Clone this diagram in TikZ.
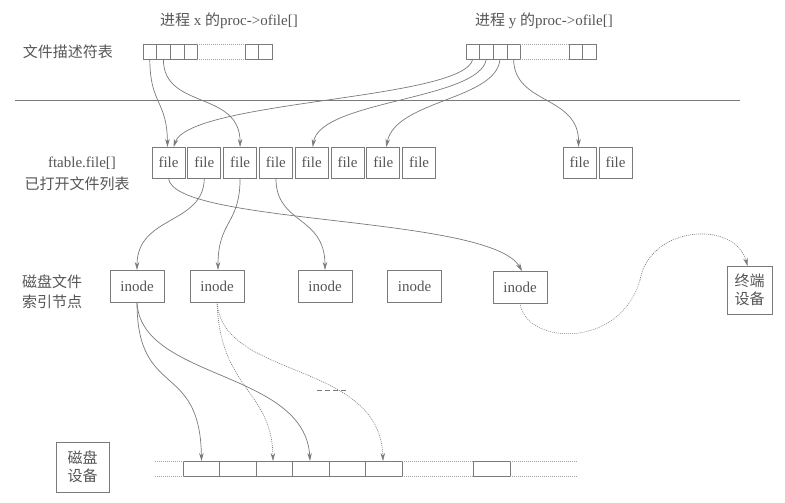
\documentclass[tikz,border=0pt]{standalone}
\usepackage{fontspec}
\setmainfont{Liberation Serif}
\newfontfamily\cjk{Noto Sans CJK SC}
\usetikzlibrary{arrows.meta}
\definecolor{ln}{HTML}{7A7A7A}
\definecolor{tx}{HTML}{555555}
\tikzset{
  every node/.style={text=tx},
  cell/.style={draw=ln, line width=0.6pt, minimum width=13.6pt, minimum height=15pt, inner sep=0pt, outer sep=0pt},
  filebox/.style={draw=ln, line width=0.7pt, minimum width=33pt, minimum height=31pt, inner sep=0pt, outer sep=0pt},
  inodebox/.style={draw=ln, line width=0.7pt, minimum width=54pt, minimum height=32pt, inner sep=0pt, outer sep=0pt},
  diskcell/.style={draw=ln, line width=0.6pt, minimum width=36.5pt, minimum height=15pt, inner sep=0pt, outer sep=0pt},
  devbox/.style={draw=ln, line width=0.7pt, align=center, inner sep=0pt, outer sep=0pt},
  conn/.style={draw=ln, line width=0.7pt, -{Stealth[length=8pt,width=4.5pt]}},
  dotconn/.style={draw=ln, line width=0.6pt, dash pattern=on 1pt off 1pt, -{Stealth[length=8pt,width=4.5pt]}},
  dotline/.style={draw=ln!70, line width=0.5pt, dash pattern=on 1pt off 1pt},
  lbl/.style={inner sep=0pt, align=center}
}
\begin{document}
\begin{tikzpicture}[x=1pt,y=-1pt,font=\fontsize{15}{19}\selectfont]
\useasboundingbox (0,0) rectangle (785,503);

% titles
\node[lbl] (tx) at (229,21) {{\cjk 进程} x {\cjk 的}proc->ofile[]};
\node[lbl] (ty) at (544,21) {{\cjk 进程} y {\cjk 的}proc->ofile[]};
\node[lbl] (fdt) at (68,52) {\cjk 文件描述符表};
\node[lbl] (ft1) at (82,163) {ftable.file[]};
\node[lbl] (ft2) at (77,184) {\cjk 已打开文件列表};
\node[lbl] (in1) at (52,282) {\cjk 磁盘文件};
\node[lbl] (in2) at (52,302) {\cjk 索引节点};

% separator line
\coordinate (sepL) at (15,100);
\coordinate (sepR) at (740,100);
\draw[ln, line width=0.8pt] (sepL) -- (sepR);

% process x array
\foreach \i/\x in {1/149.8,2/163.4,3/177,4/190.6,5/251.8,6/265.4}
  \node[cell] (xc\i) at (\x,51.5) {};
\draw[dotline] (xc4.north east) -- (xc5.north west);
\draw[dotline] (xc4.south east) -- (xc5.south west);

% process y array
\foreach \i/\x in {1/472.8,2/486.4,3/500,4/513.6,5/575.8,6/589.4}
  \node[cell] (yc\i) at (\x,51.5) {};
\draw[dotline] (yc4.north east) -- (yc5.north west);
\draw[dotline] (yc4.south east) -- (yc5.south west);

% file table
\foreach \i/\x in {1/168.5,2/204.3,3/240.1,4/275.9,5/311.7,6/347.5,7/383.3,8/419.1}
  \node[filebox] (f\i) at (\x,162.5) {file};
\node[filebox] (g1) at (579.5,162.5) {file};
\node[filebox] (g2) at (615.5,162.5) {file};

% inodes
\node[inodebox] (i1) at (137,286) {inode};
\node[inodebox] (i2) at (217,286) {inode};
\node[inodebox] (i3) at (325,286) {inode};
\node[inodebox] (i4) at (414.5,286) {inode};
\node[inodebox] (i5) at (520,287) {inode};

% terminal device
\node[devbox, minimum width=45pt, minimum height=48pt] (term) at (749.5,290) {{\cjk 终端}\\[-1pt]{\cjk 设备}};

% disk device
\node[devbox, minimum width=53pt, minimum height=50pt] (disk) at (82.5,467) {{\cjk 磁盘}\\[-1pt]{\cjk 设备}};

% disk blocks
\foreach \i/\x in {1/201.5,2/238,3/274.5,4/311,5/347.5,6/384,7/492}
  \node[diskcell] (d\i) at (\x,468.5) {};
\coordinate (dl1) at (155,461);
\coordinate (dl2) at (155,476);
\coordinate (dr1) at (578,461);
\coordinate (dr2) at (578,476);
\draw[dotline] (dl1) -- (d1.north west);
\draw[dotline] (dl2) -- (d1.south west);
\draw[dotline] (d6.north east) -- (d7.north west);
\draw[dotline] (d6.south east) -- (d7.south west);
\draw[dotline] (d7.north east) -- (dr1);
\draw[dotline] (d7.south east) -- (dr2);

% descriptor -> file
\draw[conn] (xc1.south) .. controls (150,105) and (167,100) .. ([xshift=-1pt]f1.north);
\draw[conn] (xc2.south) .. controls (163,110) and (240,90) .. (f3.north);
\draw[conn] (yc1.south) .. controls (465,100) and (190,100) .. ([xshift=5pt]f1.north);
\draw[conn] (yc2.south) .. controls (480,100) and (320,100) .. ([xshift=1pt]f5.north);
\draw[conn] (yc3.south) .. controls (497,100) and (395,100) .. ([xshift=3pt]f7.north);
\draw[conn] (yc4.south) .. controls (514,105) and (579,95) .. ([xshift=-1pt]g1.north);

% file -> inode
\draw[conn] (f1.south) .. controls (172,225) and (490,215) .. ([xshift=2pt]i5.north);
\draw[conn] (f2.south) .. controls (204,225) and (137,215) .. (i1.north);
\draw[conn] (f3.south) .. controls (240,225) and (218,220) .. ([xshift=1pt]i2.north);
\draw[conn] (f4.south) .. controls (276,225) and (325,215) .. (i3.north);

% inode -> disk
\draw[conn] (i1.south) .. controls (137,400) and (200,360) .. (d1.north);
\draw[conn] (i1.south) .. controls (140,380) and (305,370) .. ([xshift=-1pt]d4.north);
\draw[dotconn] (i2.south) .. controls (220,390) and (272,390) .. ([xshift=-1.5pt]d3.north);
\draw[dotconn] (i2.south) .. controls (222,380) and (380,360) .. ([xshift=-1pt]d6.north);

% inode -> terminal
\coordinate (mid) at (640,280);
\draw[dotline, draw=ln] (i5.south) .. controls (525,345) and (620,350) .. (mid);
\draw[dotconn] (mid) .. controls (650,225) and (735,220) .. ([xshift=-2pt]term.north);

% small dashed mark
\coordinate (m1) at (317,390);
\coordinate (m2) at (347,390);
\draw[ln, line width=0.8pt, dash pattern=on 5pt off 3pt] (m1) -- (m2);
\end{tikzpicture}
\end{document}
